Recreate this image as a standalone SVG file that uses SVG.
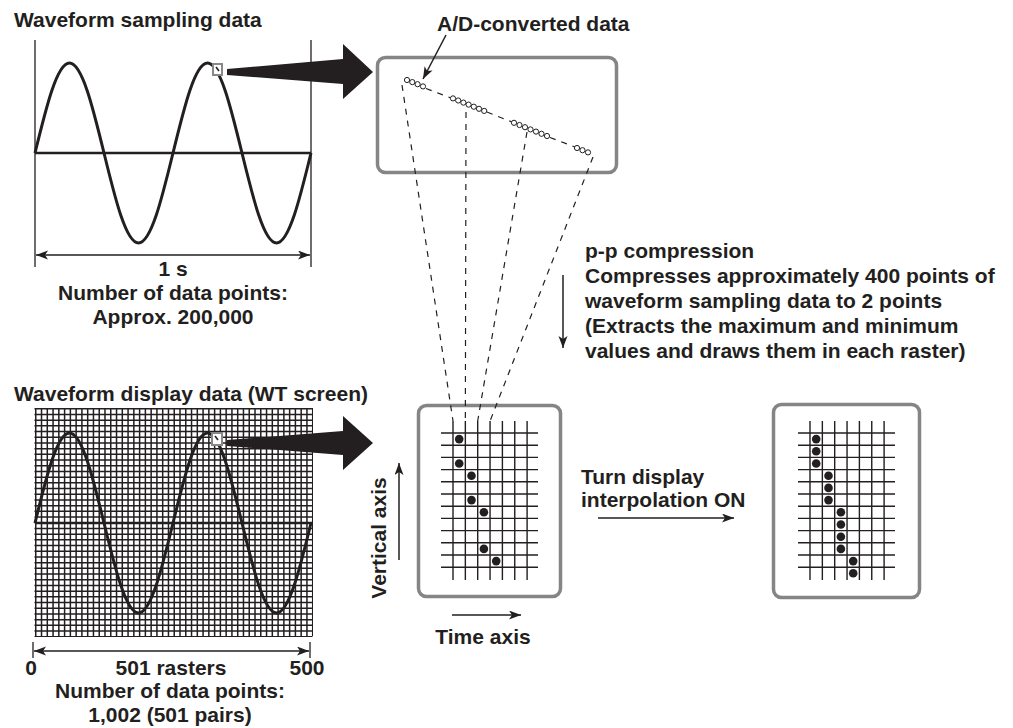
<svg xmlns="http://www.w3.org/2000/svg" xmlns:xlink="http://www.w3.org/1999/xlink" width="1013" height="728" viewBox="0 0 1013 728">
<style>
text{font-family:"Liberation Sans",Arial,Helvetica,sans-serif;font-weight:bold;font-size:21px;fill:#231f20}
.mid{text-anchor:middle}
.thin{stroke:#231f20;stroke-width:1.3;fill:none}
.wave{stroke:#231f20;stroke-width:3;fill:none}
.axis{stroke:#231f20;stroke-width:2.6;fill:none}
.dash{stroke:#231f20;stroke-width:1.2;fill:none;stroke-dasharray:6 6}
.box{stroke:#858585;stroke-width:3.5;fill:#fff}
.sel{stroke:#888;stroke-width:2;fill:#fff}
.big{fill:#231f20}
.pt{fill:#fff;stroke:#231f20;stroke-width:1}
.dot{fill:#231f20}
.grid{stroke:#231f20;stroke-width:1.4;fill:none}
.arr{stroke:#231f20;stroke-width:1.5;fill:none;marker-end:url(#ah)}
.darr{stroke:#231f20;stroke-width:1.5;fill:none;marker-start:url(#ah);marker-end:url(#ah)}
</style>
<defs>
<marker id="ah" markerUnits="userSpaceOnUse" markerWidth="13" markerHeight="10" refX="12" refY="4.5" orient="auto-start-reverse">
<path d="M0,0 L12,4.5 L0,9 L3,4.5 z" fill="#231f20"/>
</marker>
<path id="rgrid" class="grid" d="M441 433h97M441 445.2h97M441 457.4h97M441 469.6h97M441 481.8h97M441 494h97M441 506.2h97M441 518.4h97M441 530.6h97M441 542.8h97M441 555h97M441 567.2h97M453 421v159M465.35 421v159M477.7 421v159M490.05 421v159M502.4 421v159M514.75 421v159M527.1 421v159"/>
</defs>

<g id="sampling-waveform">
<text x="14" y="27">Waveform sampling data</text>
<path class="thin" d="M35 40V267M311 40V267"/>
<path class="axis" d="M35 153H311"/>
<path class="wave" d="M35,153 c11.25,-46.1 22.01,-90 34.5,-90 c12.49,0 23.25,43.9 34.5,90 c11.25,46.1 22.01,90 34.5,90 c12.49,0 23.25,-43.9 34.5,-90 c11.25,-46.1 22.01,-90 34.5,-90 c12.49,0 23.25,43.9 34.5,90 c11.25,46.1 22.01,90 34.5,90 c12.49,0 23.25,-43.9 34.5,-90"/>
<line class="darr" x1="36" y1="255" x2="310" y2="255"/>
<text class="mid" x="173" y="276">1 s</text>
<text class="mid" x="173" y="300">Number of data points:</text>
<text class="mid" x="173" y="324">Approx. 200,000</text>
<rect class="sel" x="213" y="64" width="9" height="11"/>
<path d="M216 67l3 4" stroke="#231f20" stroke-width="1.6"/>
</g>

<g id="ad-data">
<rect class="box" x="377.5" y="57.5" width="239" height="115" rx="8"/>
<text x="437" y="31">A/D-converted data</text>
<path class="dash" d="M426 88.5L451 98M487 112L512 122M550 137.5L575 147"/>
<g class="pt">
<circle cx="407" cy="80" r="2.6"/><circle cx="412.3" cy="82.1" r="2.6"/><circle cx="417.6" cy="84.2" r="2.6"/><circle cx="423" cy="86.4" r="2.6"/>
<circle cx="453" cy="98.4" r="2.6"/><circle cx="458.2" cy="100.5" r="2.6"/><circle cx="463.4" cy="102.6" r="2.6"/><circle cx="468.6" cy="104.6" r="2.6"/><circle cx="473.8" cy="106.7" r="2.6"/><circle cx="479" cy="108.8" r="2.6"/><circle cx="484.2" cy="110.9" r="2.6"/>
<circle cx="514" cy="122.8" r="2.6"/><circle cx="519.5" cy="125" r="2.6"/><circle cx="525" cy="127.2" r="2.6"/><circle cx="530.5" cy="129.4" r="2.6"/><circle cx="536" cy="131.6" r="2.6"/><circle cx="541.5" cy="133.8" r="2.6"/><circle cx="547" cy="136" r="2.6"/>
<circle cx="577" cy="148" r="2.6"/><circle cx="582.5" cy="150.2" r="2.6"/><circle cx="588" cy="152.4" r="2.6"/>
</g>
</g>

<g id="compression-note">
<text x="585" y="258">p-p compression</text>
<text x="585" y="283">Compresses approximately 400 points of</text>
<text x="585" y="308">waveform sampling data to 2 points</text>
<text x="585" y="333">(Extracts the maximum and minimum</text>
<text x="585" y="358">values and draws them in each raster)</text>
</g>

<g id="display-waveform">
<text x="14" y="401">Waveform display data (WT screen)</text>
<line x1="35" y1="522" x2="313" y2="522" stroke="#231f20" stroke-width="228" stroke-dasharray="1.5 4.27"/>
<line x1="173.5" y1="408" x2="173.5" y2="637" stroke="#231f20" stroke-width="278" stroke-dasharray="1.5 4.2"/>
<path class="axis" d="M35 523H312"/>
<path class="wave" d="M35,523 c11.25,-46.1 22.01,-90 34.5,-90 c12.49,0 23.25,43.9 34.5,90 c11.25,46.1 22.01,90 34.5,90 c12.49,0 23.25,-43.9 34.5,-90 c11.25,-46.1 22.01,-90 34.5,-90 c12.49,0 23.25,43.9 34.5,90 c11.25,46.1 22.01,90 34.5,90 c12.49,0 23.25,-43.9 34.5,-90"/>
<rect class="sel" x="212" y="433" width="10" height="12"/>
<path d="M215 436l3 4" stroke="#231f20" stroke-width="1.6"/>
<path class="thin" d="M33 642V658M310 642V658"/>
<line class="darr" x1="34" y1="651" x2="309" y2="651"/>
<text class="mid" x="31" y="675">0</text>
<text class="mid" x="171" y="675">501 rasters</text>
<text class="mid" x="307" y="675">500</text>
<text class="mid" x="170" y="698">Number of data points:</text>
<text class="mid" x="170" y="722">1,002 (501 pairs)</text>
</g>

<g id="raster-before">
<rect class="box" x="418.5" y="405.5" width="142" height="191" rx="8"/>
<use xlink:href="#rgrid"/>
<g class="dot">
<circle cx="459.2" cy="439.1" r="4.3"/><circle cx="459.2" cy="463.5" r="4.3"/><circle cx="471.5" cy="475.7" r="4.3"/><circle cx="471.5" cy="500.1" r="4.3"/><circle cx="483.9" cy="512.3" r="4.3"/><circle cx="483.9" cy="548.9" r="4.3"/><circle cx="496.2" cy="561.1" r="4.3"/>
</g>
<text class="mid" transform="translate(386,538) rotate(-90)">Vertical axis</text>
<line class="arr" x1="399" y1="560" x2="399" y2="463"/>
<line class="arr" x1="452" y1="615" x2="521" y2="615"/>
<text class="mid" x="483" y="644">Time axis</text>
</g>

<g id="raster-after">
<rect class="box" x="773.5" y="404.5" width="146" height="193" rx="8"/>
<use xlink:href="#rgrid" transform="translate(357,0)"/>
<g class="dot">
<circle cx="816.2" cy="439.1" r="4.3"/><circle cx="816.2" cy="451.3" r="4.3"/><circle cx="816.2" cy="463.5" r="4.3"/>
<circle cx="828.5" cy="475.7" r="4.3"/><circle cx="828.5" cy="487.9" r="4.3"/><circle cx="828.5" cy="500.1" r="4.3"/>
<circle cx="840.9" cy="512.3" r="4.3"/><circle cx="840.9" cy="524.5" r="4.3"/><circle cx="840.9" cy="536.7" r="4.3"/><circle cx="840.9" cy="548.9" r="4.3"/>
<circle cx="853.2" cy="561.1" r="4.3"/><circle cx="853.2" cy="573.3" r="4.3"/>
</g>
</g>

<g id="interp-label">
<text x="581" y="484">Turn display</text>
<text x="581" y="507">interpolation ON</text>
</g>

<g id="connectors">
<polygon class="big" points="227,69 343,59 343,44 373,72 343,99 343,84 227,75"/>
<polygon class="big" points="227,440 343,431 343,416 373,443 343,470 343,455 227,446"/>
<line class="arr" x1="446" y1="35" x2="423" y2="79"/>
<path class="dash" d="M402 85L453 421M466 112L465.35 421M527 132L477.7 421M593 157L490.05 421"/>
<line class="arr" x1="563" y1="275" x2="563" y2="348"/>
<line class="arr" x1="598" y1="518" x2="734" y2="518"/>
</g>
</svg>
